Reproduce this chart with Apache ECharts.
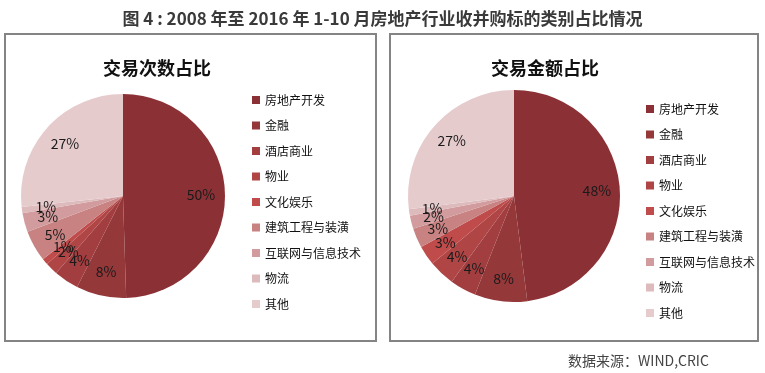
<!DOCTYPE html>
<html>
<head>
<meta charset="utf-8">
<script src="https://cdn.jsdelivr.net/npm/echarts@6/dist/echarts.min.js"></script>
<style>
html,body{margin:0;padding:0;background:#fff;}
#main{width:765px;height:373px;}
</style>
</head>
<body>
<div id="main"></div>
<script>
// ---- data ----
const categories = ['房地产开发','金融','酒店商业','物业','文化娱乐','建筑工程与装潢','互联网与信息技术','物流','其他'];
const countShare = [50, 8, 4, 2, 1, 5, 3, 1, 27];   // 交易次数占比 (%)
const amountShare = [48, 8, 4, 4, 3, 3, 2, 1, 27];  // 交易金额占比 (%)
const mainTitle = '图 4 : 2008 年至 2016 年 1-10 月房地产行业收并购标的类别占比情况';
const leftTitle = '交易次数占比';
const rightTitle = '交易金额占比';
const sourceText = '数据来源：WIND,CRIC';

// ---- styles ----
const palette = ['#8B3136','#94383A','#A33E40','#AF4545','#BF4B4B','#C88282','#D29C9E','#DDBABB','#E6CBCD'];
const FONT = '"Noto Sans CJK SC", "Noto Sans", sans-serif';

const chart = echarts.init(document.getElementById('main'), null, {renderer: 'canvas', width: 765, height: 373});

function pieData(vals) {
  return vals.map((v, i) => ({name: categories[i], value: v}));
}
function labelData(vals) {
  return vals.map(v => ({value: v}));
}
function mainPie(vals, center, r) {
  return {
    type: 'pie', center: center, radius: [0, r], startAngle: 90, clockwise: true,
    avoidLabelOverlap: false, silent: true,
    itemStyle: {borderWidth: 0},
    label: {show: false}, labelLine: {show: false},
    data: pieData(vals)
  };
}
function labelRing(vals, center, r0, r) {
  return {
    type: 'pie', center: center, radius: [r0, r], startAngle: 90, clockwise: true,
    avoidLabelOverlap: false, silent: true, z: 5, minShowLabelAngle: 0,
    itemStyle: {color: 'rgba(0,0,0,0)', borderWidth: 0},
    label: {show: true, position: 'inside', formatter: '{c}%', fontSize: 14,
            fontFamily: FONT, color: '#1a1a1a'},
    labelLine: {show: false},
    labelLayout: {hideOverlap: false},
    emphasis: {disabled: true},
    data: labelData(vals)
  };
}

const legendBase = {
  orient: 'vertical', icon: 'rect', itemWidth: 8, itemHeight: 8, itemGap: 13.5,
  selectedMode: false,
  textStyle: {fontSize: 12, fontFamily: FONT, color: '#111'},
  data: categories
};

chart.setOption({
  backgroundColor: '#ffffff',
  animation: false,
  color: palette,
  title: [
    {text: mainTitle, left: 'center', top: 5,
     textStyle: {fontSize: 17, fontWeight: 'bold', fontFamily: FONT, color: '#3a3a3a'}},
    {text: leftTitle, left: 152, top: 54, textAlign: 'center',
     textStyle: {fontSize: 18, fontWeight: 'bold', fontFamily: FONT, color: '#111'}},
    {text: rightTitle, left: 540, top: 54, textAlign: 'center',
     textStyle: {fontSize: 18, fontWeight: 'bold', fontFamily: FONT, color: '#111'}},
    {text: sourceText, left: 563, top: 349,
     textStyle: {fontSize: 14, fontWeight: 'normal', fontFamily: FONT, color: '#444'}}
  ],
  legend: [
    Object.assign({}, legendBase, {left: 247, top: 89}),
    Object.assign({}, legendBase, {left: 641, top: 98})
  ],
  graphic: [
    {type: 'rect', shape: {x: 5, y: 34, width: 371, height: 307}, style: {fill: 'none', stroke: '#848484', lineWidth: 2}, silent: true},
    {type: 'rect', shape: {x: 390, y: 34, width: 368, height: 307}, style: {fill: 'none', stroke: '#848484', lineWidth: 2}, silent: true}
  ],
  series: [
    mainPie(countShare, [123, 196], 102),
    mainPie(amountShare, [514, 196], 106),
    labelRing(countShare, [123, 196], 48, 102),
    labelRing(amountShare, [514, 196], 54, 106)
  ]
});
</script>
</body>
</html>
